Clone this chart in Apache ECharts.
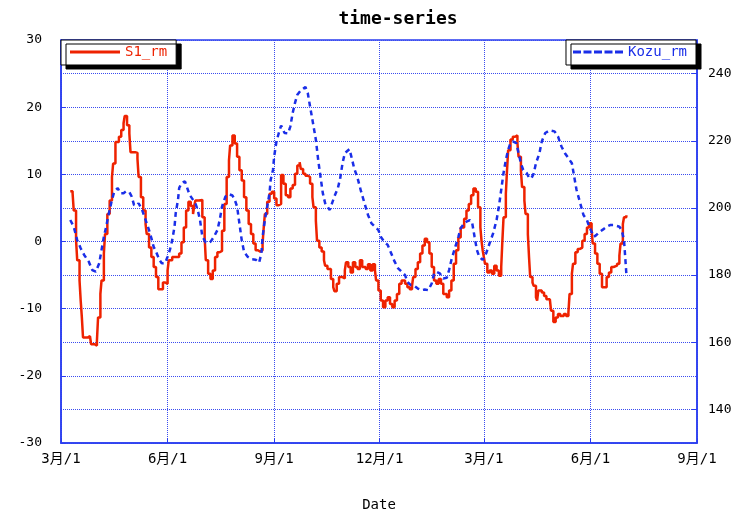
<!DOCTYPE html>
<html>
<head>
<meta charset="utf-8">
<script src="https://cdn.jsdelivr.net/npm/echarts@6/dist/echarts.min.js"></script>
<style>html,body{margin:0;padding:0;background:#fff}#c{width:750px;height:512px}</style>
</head>
<body>
<div id="c"></div>
<script>
// x values are days since the first 3月/1
const xTickDays = [0, 92, 184, 275, 365, 457, 549];
const xTickLabels = ['3月/1', '6月/1', '9月/1', '12月/1', '3月/1', '6月/1', '9月/1'];
const rightTicks = [140, 160, 180, 200, 220, 240];

const s1Days = [8,10,11,13,14,16,17,18,19,23,25,26,29,31,32,34,35,37,38,40,42,44,45,47,50,52,54,55,57,59,60,64,66,67,69,71,73,74,76,78,80,82,84,86,88,90,92,93,96,99,102,104,106,108,110,112,114,115,116,119,122,124,125,127,129,131,133,135,137,139,141,143,145,146,148,150,152,154,156,158,160,162,164,166,168,170,172,174,175,176,178,180,182,184,186,188,190,192,194,196,198,200,202,204,206,207,209,211,213,215,217,218,220,221,223,225,227,228,230,233,235,236,238,240,243,245,246,248,250,252,254,256,258,260,263,265,267,269,271,272,274,276,278,280,282,284,286,288,290,292,294,297,299,301,303,304,306,308,310,312,314,316,318,320,322,324,326,328,330,333,335,337,339,341,343,345,348,350,352,354,356,358,360,362,363,364,365,366,368,370,372,374,376,378,380,381,382,384,385,386,388,390,392,394,395,397,398,400,401,403,404,405,407,408,410,411,412,415,417,419,422,423,425,427,429,431,434,436,438,439,441,442,444,446,448,450,452,454,456,458,459,461,463,465,467,469,471,473,475,477,480,482,483,485,486,488];
const s1Vals = [7.5,7.2,4.6,0.2,-2.8,-5.8,-8.8,-11.3,-14.3,-14.1,-14.3,-15.3,-15.5,-14.8,-11.3,-7.8,-5.8,-1.8,1.1,4.1,6.1,9.6,11.6,14.8,15.6,16.6,17.6,18.7,17.3,16.1,13.3,13.2,12.3,9.6,6.6,4.6,2.6,1.1,-0.9,-2.3,-3.8,-5.3,-7.1,-7.1,-6.1,-6.3,-4.3,-2.8,-2.3,-2.3,-1.8,-0.1,2.1,4.6,5.9,5.3,4.1,5.3,6.1,6.2,3.6,0.6,-2.8,-4.8,-5.6,-4.3,-2.3,-1.6,-1.4,1.6,5.6,9.6,12.1,14.3,15.8,14.6,12.6,10.6,9.1,6.6,4.6,2.6,1.1,-0.3,-1.3,-1.5,-1.3,-0.3,2.1,4.1,5.9,7.1,7.4,6.4,5.4,5.6,9.9,8.6,6.9,6.6,7.9,8.4,10.1,11.3,11.8,10.8,10.1,9.8,9.6,8.6,6.6,5.1,3.1,0.1,-0.9,-1.5,-2.8,-3.6,-4.1,-5.6,-6.8,-7.4,-6.3,-5.3,-5.5,-4.3,-3.1,-3.8,-4.6,-3.1,-3.8,-4.1,-2.8,-3.8,-4.1,-3.4,-4.3,-3.4,-4.3,-5.8,-7.3,-8.8,-9.8,-8.8,-8.3,-9.3,-9.8,-8.8,-7.8,-6.3,-5.8,-6.3,-6.8,-7.1,-6.6,-5.3,-4.1,-3.1,-1.8,-0.6,0.4,-0.1,-1.8,-3.8,-5.8,-6.3,-5.6,-6.3,-7.8,-8.3,-7.3,-5.8,-3.3,-1.3,0.6,2.1,3.4,4.6,5.6,6.9,7.9,7.4,5.1,2.1,0.1,-1.3,-2.3,-3.3,-4.6,-4.3,-4.8,-3.6,-4.3,-5.1,-3.8,0.1,3.6,7.1,10.6,13.6,15.2,15.6,15.8,14.6,12.6,10.6,8.1,6.1,4.1,1.1,-2.3,-5.3,-6.1,-6.6,-8.3,-8.8,-7.3,-7.6,-8.1,-8.6,-8.8,-10.3,-12.0,-11.3,-10.8,-11.1,-10.8,-11.1,-10.6,-7.8,-4.8,-3.3,-1.6,-1.1,-0.9,0.1,1.1,2.1,2.7,1.8,-0.3,-1.8,-3.3,-4.8,-6.8,-6.8,-5.3,-4.6,-3.8,-3.6,-3.3,-2.1,-0.3,2.6,3.6,3.9];

const kozuDays = [8,11,14,17,20,24,27,30,33,35,37,39,41,44,46,49,51,54,56,59,61,63,65,67,70,72,74,76,78,80,82,85,87,90,92,94,96,98,99,101,102,104,107,109,111,114,116,118,120,122,125,129,132,135,137,139,142,145,148,150,152,154,156,158,161,165,168,171,173,174,176,178,180,181,183,184,186,188,190,193,196,198,200,202,204,207,211,213,215,217,220,222,224,226,228,232,234,236,239,241,243,245,249,251,253,256,259,262,265,268,271,274,276,279,282,285,288,291,294,297,299,302,305,308,311,314,317,320,322,324,327,330,333,335,337,340,343,345,348,350,353,355,357,359,361,364,367,370,373,376,378,380,382,384,386,388,390,393,395,397,399,402,404,406,408,410,413,415,418,422,426,429,432,435,438,441,443,445,447,449,451,454,456,458,460,462,465,468,471,474,477,480,482,484,486,487,488];
const kozuVals = [196.4,194.4,190.4,188.0,186.0,184.0,181.5,181.0,183.5,187.5,191.4,194.4,197.9,202.4,204.9,205.9,204.4,204.4,204.9,204.7,203.4,200.9,200.6,201.4,199.4,197.4,195.4,193.4,191.0,188.4,187.0,184.5,183.5,183.6,185.5,187.5,190.4,194.4,198.4,202.4,205.9,207.4,207.9,205.9,203.9,202.4,201.4,199.4,196.4,191.5,189.7,189.9,191.4,193.4,196.4,200.4,203.4,204.1,203.7,202.4,200.4,195.4,190.4,187.0,185.5,184.7,184.6,183.7,186.5,191.4,196.4,200.4,204.4,208.4,211.3,215.3,219.8,222.3,224.5,222.3,222.2,224.3,228.3,231.3,233.7,235.0,236.0,234.2,230.2,226.3,220.3,214.3,209.3,204.4,201.4,199.4,201.4,203.4,205.9,208.8,213.3,216.3,217.5,214.8,211.9,208.9,204.9,201.4,197.9,195.4,194.4,193.4,191.4,189.9,189.0,186.5,184.0,182.0,181.0,180.0,178.0,177.0,176.8,176.0,175.5,175.7,175.5,177.5,180.5,181.0,180.5,179.0,179.2,181.5,184.5,188.0,191.4,193.9,195.4,195.9,196.4,195.4,191.4,187.5,185.5,184.5,186.5,189.5,192.4,196.4,200.4,205.4,210.4,214.3,217.3,219.3,219.8,219.3,216.3,213.3,211.3,210.4,209.0,208.8,210.2,213.3,216.3,219.8,222.3,223.1,222.8,221.3,218.3,216.3,214.8,213.3,209.3,205.4,202.9,200.4,197.9,196.4,194.4,192.9,191.4,191.9,192.9,193.6,194.4,194.9,194.9,194.6,194.4,193.4,190.4,185.5,180.5];

const AX = '#2a3cf0';
const GRIDC = '#3a4cf0';
const RED = '#ee2200';
const BLUE = '#1a2ee8';
const FONT = "'DejaVu Sans Mono', 'Noto Sans CJK JP', monospace";
const solidIcon = 'path://M0,0H50V3H0Z';
const dashIcon = 'path://M0,0H8V3H0Z M10.5,0H18.5V3H10.5Z M21,0H29V3H21Z M31.5,0H39.5V3H31.5Z M42,0H50V3H42Z';

const legendBase = {
  orient: 'horizontal', top: 40, itemWidth: 50, itemHeight: 14,
  backgroundColor: '#fff', borderColor: '#000', borderWidth: 1,
  shadowColor: '#000', shadowBlur: 0, shadowOffsetX: 5, shadowOffsetY: 4
};

const chart = echarts.init(document.getElementById('c'), null, {renderer: 'canvas'});
chart.setOption({
  animation: false,
  backgroundColor: '#fff',
  title: {
    text: 'time-series', left: 393, top: 5, textAlign: 'center',
    textStyle: {fontFamily: FONT, fontSize: 18, fontWeight: 'bold', color: '#000'}
  },
  grid: {left: 61, right: 53, top: 40, bottom: 69, show: true, borderColor: AX, borderWidth: 1.5,
         backgroundColor: 'transparent', outerBoundsMode: 'none', containLabel: false},
  legend: [
    Object.assign({}, legendBase, {
      data: [{name: 'S1_rm', icon: solidIcon}], left: 61, padding: [5, 9, 6, 9],
      textStyle: {color: RED, fontFamily: FONT, fontSize: 14}}),
    Object.assign({}, legendBase, {
      data: [{name: 'Kozu_rm', icon: dashIcon}], right: 54, padding: [5, 9, 6, 7],
      textStyle: {color: BLUE, fontFamily: FONT, fontSize: 14}})
  ],
  xAxis: {
    type: 'value', min: 0, max: 549,
    name: 'Date', nameLocation: 'middle', nameGap: 55,
    nameTextStyle: {fontFamily: FONT, fontSize: 14, color: '#000'},
    axisLine: {onZero: false, lineStyle: {color: AX, width: 1.5}},
    axisTick: {inside: true, length: 5, customValues: xTickDays, lineStyle: {color: AX}},
    axisLabel: {customValues: xTickDays, fontFamily: FONT, fontSize: 14, color: '#000', margin: 9,
      formatter: function (v) { const i = xTickDays.indexOf(v); return i >= 0 ? xTickLabels[i] : ''; }},
    splitLine: {show: true, lineStyle: {color: GRIDC, type: 'dotted', width: 1}}
  },
  yAxis: [
    {type: 'value', min: -30, max: 30, interval: 10, position: 'left',
     axisLine: {show: true, lineStyle: {color: AX, width: 1.5}},
     axisTick: {show: true, inside: true, length: 5, lineStyle: {color: AX}},
     axisLabel: {fontFamily: FONT, fontSize: 13, color: '#000', margin: 19},
     splitLine: {show: true, lineStyle: {color: GRIDC, type: 'dotted', width: 1}}},
    {type: 'value', min: 130, max: 250, position: 'right',
     axisLine: {show: true, lineStyle: {color: AX, width: 1.5}},
     axisTick: {show: true, inside: true, length: 5, customValues: rightTicks, lineStyle: {color: AX}},
     axisLabel: {customValues: rightTicks, fontFamily: FONT, fontSize: 13, color: '#000', margin: 11},
     splitLine: {show: true, lineStyle: {color: GRIDC, type: 'dotted', width: 1}}}
  ],
  series: [
    {name: 'S1_rm', type: 'line', yAxisIndex: 0, symbol: 'none', step: 'end',
     data: s1Days.map((d, i) => [d, s1Vals[i]]),
     lineStyle: {color: RED, width: 2.5}, itemStyle: {color: RED}},
    {name: 'Kozu_rm', type: 'line', yAxisIndex: 1, symbol: 'none',
     data: kozuDays.map((d, i) => [d, kozuVals[i]]),
     lineStyle: {color: BLUE, width: 2.5, type: [5, 4]}, itemStyle: {color: BLUE}}
  ]
});
</script>
</body>
</html>
